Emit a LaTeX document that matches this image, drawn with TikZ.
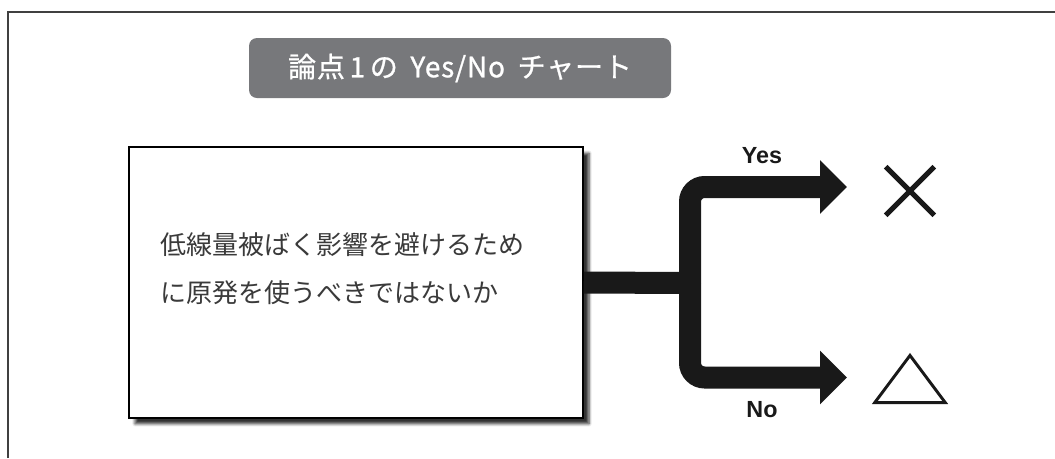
\documentclass[tikz,border=0pt]{standalone}
\usepackage{fontspec}
\setmainfont{Liberation Sans}
\newfontfamily\jp{Noto Sans CJK JP}
\newfontfamily\jpt{Noto Sans CJK JP}[LetterSpace=3, RawFeature={embolden=0.9}]
\usetikzlibrary{arrows.meta,shadows.blur}
\definecolor{pill}{HTML}{77787B}
\definecolor{txt}{HTML}{3A3A3A}
\tikzset{
  frameline/.style={line width=1.5pt, draw=black!75},
  titlebox/.style={fill=pill, rounded corners=6pt, text=white,
    font=\jpt\fontsize{21}{26}\selectfont,
    minimum width=316.5pt, minimum height=45pt, inner sep=0pt},
  qbox/.style={draw=black, line width=1.1pt, fill=white,
    minimum width=340.5pt, minimum height=203pt, inner sep=0pt,
    blur shadow={shadow xshift=4.5pt, shadow yshift=-4.5pt, shadow blur steps=6, shadow opacity=80}},
  qtext/.style={anchor=west, align=left, text=txt, inner sep=0pt,
    font=\jp\fontsize{19.5}{35.5}\selectfont},
  bar/.style={line width=16.5pt, draw=black!90},
  arrowtip/.style={-{Triangle[length=20.25pt,width=39pt]}},
  lbl/.style={font=\bfseries\fontsize{17.5}{20}\selectfont, text=black!90, inner sep=0pt},
  resmark/.style={inner sep=0pt, draw=none}
}
\begin{document}
\begin{tikzpicture}[x=0.75pt,y=-0.75pt]
\useasboundingbox (0,0) rectangle (1055,458);
% frame (top and left only)
\coordinate (fbl) at (8,458);
\coordinate (ftl) at (8,12);
\coordinate (ftr) at (1055,12);
\draw[frameline] (fbl) -- (ftl) -- (ftr);
% title
\node[titlebox] (title) at (460,68) {論点\,1\,の\hspace{0.45em}Yes/No\hspace{0.45em}チャート};
% question box
\node[qbox] (q) at (356,282.5) {};
\node[qtext] (qt) at (160,268.5) {低線量被ばく影響を避けるため\\に原発を使うべきではないか};
% connectors
\coordinate (j) at (690,283);
\coordinate (yt) at (847,187);
\coordinate (nt) at (847,377.5);
\draw[bar] (q.east) -- (j);
\draw[bar, arrowtip, rounded corners=11pt] (j) |- (yt);
\draw[bar, arrowtip, rounded corners=11pt] (j) |- (nt);
% labels
\node[lbl] (yes) at (762,156) {Yes};
\node[lbl] (no) at (762,410) {No};
% result marks
\node[resmark, minimum width=36pt, minimum height=36pt] (ym) at (910,191) {};
\draw[line width=3.8pt, black!90] (ym.north west) -- (ym.south east);
\draw[line width=3.8pt, black!90] (ym.south west) -- (ym.north east);
\node[resmark, minimum width=52.5pt, minimum height=35pt] (nm) at (910,379) {};
\draw[line width=2.2pt, black!90, line join=miter] (nm.south west) -- (nm.north) -- (nm.south east) -- cycle;
\end{tikzpicture}
\end{document}
